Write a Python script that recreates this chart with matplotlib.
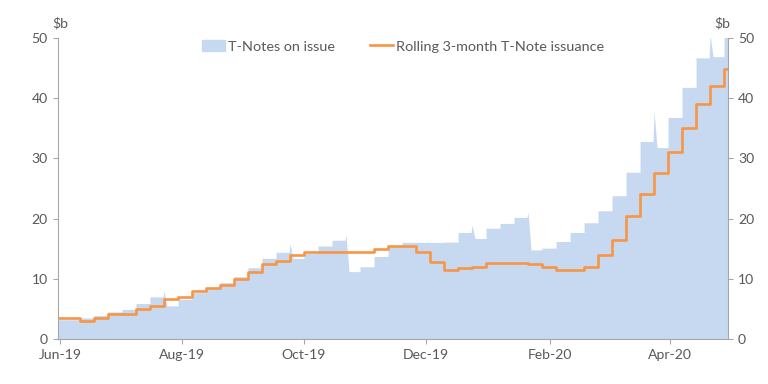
#!/usr/bin/env python3

import matplotlib
matplotlib.use('Agg')
import matplotlib.pyplot as plt
import matplotlib.dates as mdates
from matplotlib.patches import Patch
from matplotlib.lines import Line2D
import numpy as np
import pandas as pd

# weekly settlement dates (first value holds from start of axis)
start = pd.Timestamp('2019-05-31')
step_dates = pd.date_range('2019-06-11', periods=47, freq='7D')
end = pd.Timestamp('2020-04-30')

# T-Notes on issue ($b), one value per interval
on_issue = [3.2, 3.5, 3.9, 4.5, 4.9, 5.9, 7.0, 5.5, 6.6, 7.7,
            8.3, 9.35, 10.35, 11.85, 13.4, 14.4, 13.4, 14.2, 15.45, 16.4,
            11.2, 12.0, 13.7, 15.45, 16.05, 16.05, 16.05, 16.1, 17.7, 16.7,
            18.4, 19.2, 20.2, 14.8, 15.1, 16.2, 17.7, 19.3, 21.3, 23.8,
            27.7, 32.8, 31.8, 36.8, 41.8, 46.7, 46.9, 50.5]

# short spikes at the end of an interval: interval index -> peak
spikes = {6: 7.9, 15: 15.8, 19: 17.3, 28: 18.9, 32: 21.1, 41: 37.8, 45: 50.5}

# rolling 3-month issuance ($b)
rolling = [3.5, 3.0, 3.5, 4.1, 4.1, 5.0, 5.4, 6.6, 7.0, 8.0,
           8.5, 8.9, 9.97, 11.1, 12.5, 12.95, 13.95, 14.45, 14.45, 14.45,
           14.4, 14.4, 14.95, 15.45, 15.45, 14.4, 12.8, 11.45, 11.85, 12.0,
           12.55, 12.55, 12.55, 12.5, 12.0, 11.5, 11.5, 12.0, 14.0, 16.5,
           20.45, 24.05, 27.55, 31.0, 35.0, 39.0, 42.0, 44.9]

edges = [start] + list(step_dates) + [end]
half_day = pd.Timedelta(hours=12)
fall = pd.Timedelta(hours=36)

# build area outline
ax_x, ax_y = [], []
for i, v in enumerate(on_issue):
    a, b = edges[i], edges[i + 1]
    if i > 0 and (i - 1) in spikes:
        a = a + fall
    if i in spikes:
        ax_x += [a, b - half_day, b]
        ax_y += [v, v, spikes[i]]
    else:
        ax_x += [a, b]
        ax_y += [v, v]

line_x = edges
line_y = rolling + [rolling[-1]]

blue = '#C6D9F1'
orange = '#F79646'
grey = '#595959'
plt.rcParams['font.family'] = ['Lato', 'DejaVu Sans']

fig = plt.figure(figsize=(8, 4), dpi=96)
ax = fig.add_axes([0.0755, 0.1172, 0.8725, 0.7838])
ax.fill_between(ax_x, 0, ax_y, color=blue, lw=0)
ax.plot(line_x, line_y, drawstyle='steps-post', color=orange, lw=2.0)

ax.set_xlim(start, end)
ax.set_ylim(0, 50)
ax.set_yticks(np.arange(0, 51, 10))
ax.xaxis.set_major_locator(mdates.MonthLocator(bymonth=[2, 4, 6, 8, 10, 12]))
ax.xaxis.set_major_formatter(mdates.DateFormatter('%b-%y'))

ax2 = ax.twinx()
ax2.set_ylim(0, 50)
ax2.set_yticks(np.arange(0, 51, 10))

for a in (ax, ax2):
    a.spines['top'].set_visible(False)
    for s in ('left', 'right', 'bottom'):
        a.spines[s].set_color('#A6A6A6')
    a.tick_params(colors='#A6A6A6', labelcolor=grey, labelsize=10.5, length=4)
ax2.spines['left'].set_visible(False)
ax2.spines['bottom'].set_visible(False)
ax.spines['right'].set_visible(False)

fig.text(0.078, 0.928, '$b', color=grey, fontsize=10.5, ha='center')
fig.text(0.94, 0.928, '$b', color=grey, fontsize=10.5, ha='center')

handles = [Patch(color=blue, label='T-Notes on issue'),
           Line2D([], [], color=orange, lw=2, label='Rolling 3-month T-Note issuance')]
leg = ax.legend(handles=handles, loc='upper center', ncol=2, frameon=False,
                bbox_to_anchor=(0.515, 1.035), fontsize=10.8, handlelength=1.6,
                handletextpad=0.2, columnspacing=2.4)
for t in leg.get_texts():
    t.set_color(grey)

fig.savefig('out.png', dpi=96)
